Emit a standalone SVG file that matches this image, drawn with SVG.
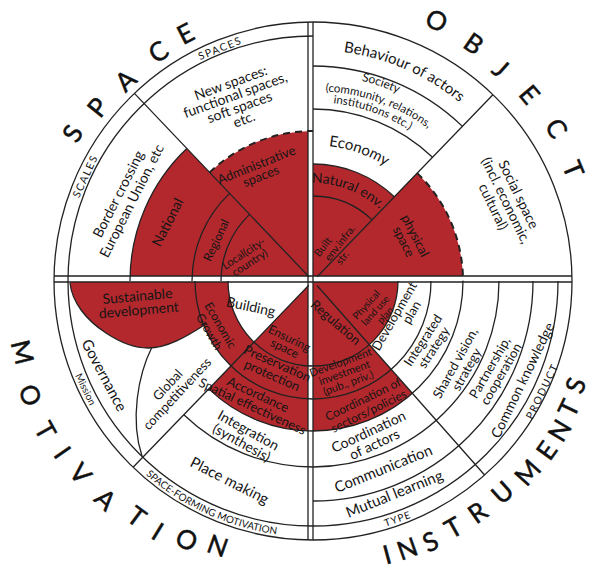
<svg xmlns="http://www.w3.org/2000/svg" width="590" height="569" viewBox="0 0 590 569">
<style>
.red{fill:#B3282D}
.ln{fill:none;stroke:#222;stroke-width:1.3}
.dash{fill:none;stroke:#222;stroke-width:2;stroke-dasharray:7 5}
.t{font-family:Lato,"Open Sans","Liberation Sans",sans-serif;fill:#151515;text-anchor:middle;dominant-baseline:central}
.tp{font-family:Lato,"Open Sans","Liberation Sans",sans-serif;fill:#151515;text-anchor:middle}
.big{font-family:Lato,"Open Sans","Liberation Sans",sans-serif;font-size:26px;fill:#111;stroke:#111;stroke-width:0.5;text-anchor:middle;dominant-baseline:central}
.band{font-size:10.5px;letter-spacing:1.5px}
</style>
<defs>
<path id="pBeh" d="M266.9,54.6 A231,231 0 0 1 510.0,160.3"/>
<path id="pSoc1" d="M256.2,82.9 A206,206 0 0 1 479.6,159.9"/>
<path id="pSoc2" d="M264.9,97.7 A192,192 0 0 1 470.8,171.7"/>
<path id="pSoc3" d="M265.2,108.5 A179,179 0 0 1 458.7,177.1"/>
<path id="pEco" d="M276.7,150.0 A136,136 0 0 1 423.7,202.0"/>
<path id="pNat" d="M289.3,185.9 A98,98 0 0 1 394.2,226.2"/>
<path id="pSFM" d="M104.6,429.7 A256,256 0 0 0 337.5,535.8"/>
</defs>
<rect width="590" height="569" fill="#fff"/>

<g id="red-regions">
<path class="red" d="M313,281 L130,281 A183,183 0 0 1 186.8,148.5 Z"/>
<path class="red" d="M313,281 L209.6,172.4 A150,150 0 0 1 313,131 Z"/>
<path class="red" d="M313,281 L313,164 A117,117 0 0 1 394.3,196.8 Z"/>
<path class="red" d="M313,281 L417.2,173.1 A150,150 0 0 1 463,281 Z"/>
<path class="red" d="M313,281 L398,281 A85,85 0 0 1 369.3,344.7 L412.4,393.4 A150,150 0 0 1 313,431 Z"/>
<path class="red" d="M313,281 L313,431 A150,150 0 0 1 208.8,388.9 Z"/>
<path class="red" d="M70,282 C72,302 86,320 106,333 C121,343 136,348 148,348 C167,348 186,337 206,324 L206,282 Z"/>
<path class="red" d="M231,365.9 A118,118 0 0 1 195,281 L228,281 A85,85 0 0 0 254.0,342.1 Z"/>
</g>

<g id="connectors">
<rect x="308" y="22" width="5" height="518" fill="#fff"/>
<rect x="54" y="276" width="518" height="6" fill="#fff"/>
<circle class="ln" cx="313" cy="281" r="259"/>
<path class="ln" d="M558,281 A245,245 0 0 1 68,281 A245,245 0 0 1 313,36"/>
<path class="ln" d="M308,22 V540 M313,22 V540 M54,276 H572 M54,282 H572"/>
<path class="ln" d="M308.9,276.7 L134.4,93.4 M317.2,276.7 L492.9,94.7 M317,285.5 L484.6,475 M308.8,285.3 L133.1,467.3"/>
<path class="ln" d="M221,281 A92,92 0 0 1 249.6,214.4 M192,281 A121,121 0 0 1 229.6,193.4 M130,281 A183,183 0 0 1 186.8,148.5"/>
<path class="dash" d="M209.6,172.4 A150,150 0 0 1 313,131"/>
<path class="ln" d="M313,196 A85,85 0 0 1 372.0,219.9 M313,164 A117,117 0 0 1 394.3,196.8 M313,109 A172,172 0 0 1 432.5,157.3 M313,66 A215,215 0 0 1 462.4,126.4"/>
<path class="dash" d="M417.2,173.1 A150,150 0 0 1 463,281"/>
<path class="ln" d="M398,281 A85,85 0 0 1 228,281 M431,281 A118,118 0 0 1 195,281 M463,281 A150,150 0 0 1 313,431 A150,150 0 0 1 208.8,388.9 M499,281 A186,186 0 0 1 313,467 A186,186 0 0 1 183.8,414.8 M533,281 A220,220 0 0 1 313,501"/>
<path class="ln" d="M70,283 C72,302 86,320 106,333 C121,343 136,348 148,348 C167,348 186,337 206,324"/>
<path class="ln" d="M152,347 C138,375 130,420 142,456"/>
</g>

<g id="space">
<text class="big" transform="translate(72 133) rotate(-58.4)">S</text>
<text class="big" transform="translate(97 107) rotate(-51.2)">P</text>
<text class="big" transform="translate(125 80) rotate(-43.1)">A</text>
<text class="big" transform="translate(158 51) rotate(-33.8)">C</text>
<text class="big" transform="translate(185 33) rotate(-27.1)">E</text>
<text class="t band" transform="translate(220 48) rotate(-21.7)">SPACES</text>
<text class="t band" transform="translate(85 176) rotate(-65.2)">SCALES</text>
<text class="t" font-size="14" transform="translate(124 197) rotate(-63)"><tspan x="0" y="-7.5">Border crossing</tspan><tspan x="0" y="7.5">European Union, etc</tspan></text>
<text class="t" font-size="14" transform="translate(237 100) rotate(-20)"><tspan x="0" y="-19.5">New spaces:</tspan><tspan x="0" y="-6.5">functional spaces,</tspan><tspan x="0" y="6.5">soft spaces</tspan><tspan x="0" y="19.5">etc.</tspan></text>
<text class="t" font-size="13" transform="translate(258.5 170) rotate(-22)"><tspan x="0" y="-6">Administrative</tspan><tspan x="0" y="6">spaces</tspan></text>
<text class="t" font-size="14" transform="translate(167 222) rotate(-63)">National</text>
<text class="t" font-size="12" transform="translate(216 240) rotate(-65)">Regional</text>
<text class="t" font-size="11" transform="translate(246 257) rotate(-33)"><tspan x="0" y="-5.5">Local(city-</tspan><tspan x="0" y="5.5">country)</tspan></text>
</g>

<g id="object">
<text class="big" transform="translate(437 20) rotate(25.4)">O</text>
<text class="big" transform="translate(474 43) rotate(34.4)">B</text>
<text class="big" transform="translate(501 68) rotate(41.7)">J</text>
<text class="big" transform="translate(530 94) rotate(49.6)">E</text>
<text class="big" transform="translate(557 128) rotate(58.5)">C</text>
<text class="big" transform="translate(574 169) rotate(67.4)">T</text>
<text class="tp" font-size="15"><textPath href="#pBeh" startOffset="50%">Behaviour of actors</textPath></text>
<text class="tp" font-size="11.5"><textPath href="#pSoc1" startOffset="50%" font-size="12">Society</textPath><textPath href="#pSoc2" startOffset="50%">(community, relations,</textPath><textPath href="#pSoc3" startOffset="50%">institutions etc.)</textPath></text>
<text class="tp" font-size="15"><textPath href="#pEco" startOffset="50%">Economy</textPath></text>
<text class="tp" font-size="14"><textPath href="#pNat" startOffset="50%">Natural env.</textPath></text>
<text class="t" font-size="10.5" style="text-anchor:start" transform="translate(316 255) rotate(-52)"><tspan x="0" y="0">Built</tspan><tspan x="3" y="11">env.infra.</tspan><tspan x="7" y="22">str.</tspan></text>
<text class="t" font-size="13" transform="translate(410 238.5) rotate(63)"><tspan x="0" y="-6.5">physical</tspan><tspan x="0" y="6.5">space</tspan></text>
<text class="t" font-size="14" transform="translate(507 200) rotate(64)"><tspan x="0" y="-14">Social space</tspan><tspan x="0" y="0">(incl. economic,</tspan><tspan x="0" y="14">cultural)</tspan></text>
</g>

<g id="motivation">
<text class="big" transform="translate(23 352) rotate(76)">M</text>
<text class="big" transform="translate(31 395) rotate(68)">O</text>
<text class="big" transform="translate(46 430) rotate(61)">T</text>
<text class="big" transform="translate(63 452) rotate(55.5)">I</text>
<text class="big" transform="translate(81 473) rotate(50)">V</text>
<text class="big" transform="translate(106 499) rotate(43)">A</text>
<text class="big" transform="translate(137 516) rotate(36.4)">T</text>
<text class="big" transform="translate(158 531) rotate(31.5)">I</text>
<text class="big" transform="translate(187 539) rotate(25.7)">O</text>
<text class="big" transform="translate(218 545) rotate(19.4)">N</text>
<text class="tp" font-size="10"><textPath href="#pSFM" startOffset="50%">SPACE-FORMING MOTIVATION</textPath></text>
<text class="t" font-size="10" transform="translate(86 389) rotate(64)">Mission</text>
<text class="t" font-size="15" transform="translate(105 375) rotate(62)">Governance</text>
<text class="t" font-size="14" transform="translate(138 302) rotate(-5)"><tspan x="0" y="-7">Sustainable</tspan><tspan x="0" y="7">development</tspan></text>
<text class="t" font-size="13" transform="translate(172 389) rotate(-47)"><tspan x="0" y="-6.5">Global</tspan><tspan x="0" y="6.5">competitiveness</tspan></text>
<text class="t" font-size="14" transform="translate(251 306) rotate(12)">Building</text>
<text class="t" font-size="12" transform="translate(215.5 328) rotate(60)"><tspan x="0" y="-6.5">Economic</tspan><tspan x="0" y="6.5">Growth</tspan></text>
<text class="t" font-size="12" transform="translate(287.5 342.5) rotate(26)"><tspan x="0" y="-5.5">Ensuring</tspan><tspan x="0" y="5.5">space</tspan></text>
<text class="t" font-size="13" transform="translate(275 369) rotate(24)"><tspan x="0" y="-6.5">Preservation</tspan><tspan x="0" y="6.5">protection</tspan></text>
<text class="t" font-size="13" transform="translate(255.5 400) rotate(25)"><tspan x="0" y="-6.5">Accordance</tspan><tspan x="0" y="6.5">Spatial effectiveness</tspan></text>
<text class="t" font-size="14" transform="translate(245.5 435.5) rotate(29)"><tspan x="0" y="-7">Integration</tspan><tspan x="0" y="7">(synthesis)</tspan></text>
<text class="t" font-size="15" transform="translate(230 480) rotate(27)">Place making</text>
</g>

<g id="instruments">
<text class="big" transform="translate(387 554) rotate(-15.1)">I</text>
<text class="big" transform="translate(407 548) rotate(-19.4)">N</text>
<text class="big" transform="translate(430 541) rotate(-24.2)">S</text>
<text class="big" transform="translate(453 527) rotate(-29.6)">T</text>
<text class="big" transform="translate(477 512) rotate(-35.3)">R</text>
<text class="big" transform="translate(502 492) rotate(-41.9)">U</text>
<text class="big" transform="translate(527 472) rotate(-48.2)">M</text>
<text class="big" transform="translate(546 450) rotate(-54.1)">E</text>
<text class="big" transform="translate(559 430) rotate(-59)">N</text>
<text class="big" transform="translate(568 408) rotate(-64.1)">T</text>
<text class="big" transform="translate(575 385) rotate(-69.2)">S</text>
<text class="t band" transform="translate(542 391) rotate(-64)">PRODUCT</text>
<text class="t" font-size="10" letter-spacing="1" transform="translate(397.5 518.4) rotate(-19.6)">TYPE</text>
<text class="t" font-size="14" transform="translate(522 380) rotate(-64)">Common knowledge</text>
<text class="t" font-size="13" transform="translate(495 370.5) rotate(-60)"><tspan x="0" y="-6.5">Partnership,</tspan><tspan x="0" y="6.5">cooperation</tspan></text>
<text class="t" font-size="13" transform="translate(460.5 366) rotate(-61)"><tspan x="0" y="-6.5">Shared vision,</tspan><tspan x="0" y="6.5">strategy</tspan></text>
<text class="t" font-size="13" transform="translate(428 343.5) rotate(-57)"><tspan x="0" y="-6.5">Integrated</tspan><tspan x="0" y="6.5">strategy</tspan></text>
<text class="t" font-size="13" transform="translate(399 319) rotate(-60)"><tspan x="0" y="-6">Development</tspan><tspan x="12" y="7">plan</tspan></text>
<text class="t" font-size="10" transform="translate(375 310) rotate(-48)"><tspan x="-2" y="-10.5">Physical</tspan><tspan x="0" y="0">land use</tspan><tspan x="3" y="10.5">plan</tspan></text>
<text class="t" font-size="13" transform="translate(336 322) rotate(41)">Regulation</text>
<text class="t" font-size="11" transform="translate(344 371.5) rotate(-20)"><tspan x="0" y="-11">Development</tspan><tspan x="0" y="0">investment</tspan><tspan x="0" y="11">(pub., priv.)</tspan></text>
<text class="t" font-size="12" transform="translate(365.5 404.5) rotate(-26)"><tspan x="0" y="-6.5">Coordination of</tspan><tspan x="0" y="6.5">sectors/policies</tspan></text>
<text class="t" font-size="14" transform="translate(371 437) rotate(-25)"><tspan x="0" y="-7">Coordination</tspan><tspan x="0" y="7">of actors</tspan></text>
<text class="t" font-size="15" transform="translate(383 468) rotate(-22)">Communication</text>
<text class="t" font-size="15" transform="translate(394 493) rotate(-22)">Mutual learning</text>
</g>
</svg>
